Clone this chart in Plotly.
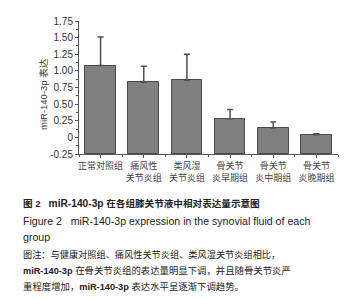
import plotly.graph_objects as go

categories = ["正常对照组", "痛风性<br>关节炎组", "类风湿<br>关节炎组",
              "骨关节<br>炎早期组", "骨关节<br>炎中期组", "骨关节<br>炎晚期组"]
values = [1.08, 0.83, 0.86, 0.28, 0.14, 0.04]
errors = [0.43, 0.24, 0.39, 0.14, 0.09, 0.015]
ytick_vals = [-0.25, 0, 0.25, 0.5, 0.75, 1.0, 1.25, 1.5, 1.75]
ytick_text = ["-0.25", "0", "0.25", "0.50", "0.75", "1.00", "1.25", "1.50", "1.75"]
y_title = "miR-140-3p 表达"
MIR = "<b><span style='font-size:9.2px'>miR-140-3p</span></b>"
caption_lines = [
    ("<b>图 2</b>   <b><span style='font-size:10.2px'>miR-140-3p</span> 在各组膝关节液中相对表达量示意图</b>", 195, 9.6),
    ("Figure 2   miR-140-3p expression in the synovial fluid of each", 213, 10.6),
    ("group", 229, 10.6),
    ("图注：与健康对照组、痛风性关节炎组、类风湿关节炎组相比，", 246, 9.2),
    (MIR + " 在骨关节炎组的表达量明显下调，并且随骨关节炎严", 262, 9.4),
    ("重程度增加，" + MIR + " 表达水平呈逐渐下调趋势。", 278, 9.4),
]

BASE = -0.25
xs = list(range(len(categories)))

W, H = 358, 300
L, R, T, B = 71, 330, 13, 146

def px_x(p):
    return (p - L) / (R - L)

def px_y(p):
    return (B - p) / (B - T)

fig = go.Figure()
fig.add_trace(go.Bar(
    x=xs, y=[v - BASE for v in values], base=BASE, width=0.71,
    marker=dict(color="#808080", line=dict(color="#4a4a4a", width=1)),
    showlegend=False,
))
fig.add_trace(go.Scatter(
    x=xs, y=values, mode="markers", marker=dict(size=1, opacity=0),
    error_y=dict(type="data", array=errors, arrayminus=[0] * len(errors),
                 symmetric=False, color="#505050", thickness=1.5, width=3),
    showlegend=False,
))

fig.update_layout(
    width=W, height=H,
    margin=dict(l=L, r=W - R, t=T, b=H - B, autoexpand=False),
    paper_bgcolor="white", plot_bgcolor="white",
    font=dict(family="Liberation Sans, Arial, Noto Sans CJK SC", size=10, color="#333"),
    bargap=0,
)
fig.update_xaxes(
    range=[-0.5, 5.5], tickvals=xs, ticktext=categories, tickangle=0, automargin=False,
    tickfont=dict(family="Noto Sans CJK SC", size=9, color="#444"),
    showline=True, linecolor="#555", linewidth=1,
    ticks="outside", ticklen=3, tickcolor="#555",
    minor=dict(dtick=0.5, tick0=0.5, ticks="outside", ticklen=2, tickcolor="#555"),
    showgrid=False, zeroline=False, fixedrange=True,
)
fig.update_yaxes(
    range=[-0.25, 1.75], tickvals=ytick_vals, ticktext=ytick_text, automargin=False,
    tickfont=dict(family="Liberation Sans, Arial", size=10, color="#333"),
    showline=True, linecolor="#555", linewidth=1,
    ticks="outside", ticklen=3, tickcolor="#555",
    minor=dict(dtick=0.125, tick0=0, ticks="outside", ticklen=2, tickcolor="#555"),
    showgrid=False, zeroline=False, fixedrange=True,
)

fig.add_annotation(
    text=y_title, textangle=-90, showarrow=False,
    xref="paper", yref="paper", x=px_x(35), y=px_y(86),
    xanchor="center", yanchor="middle",
    font=dict(family="Liberation Sans, Arial, Noto Sans CJK SC", size=9.5, color="#333"),
)

for text, yc, fs in caption_lines:
    fig.add_annotation(
        text=text, showarrow=False, xref="paper", yref="paper",
        x=px_x(13), y=px_y(yc), xanchor="left", yanchor="middle", align="left",
        font=dict(family="Liberation Sans, Arial, Noto Sans CJK SC", size=fs, color="#222"),
    )

fig.write_html("out.html")
